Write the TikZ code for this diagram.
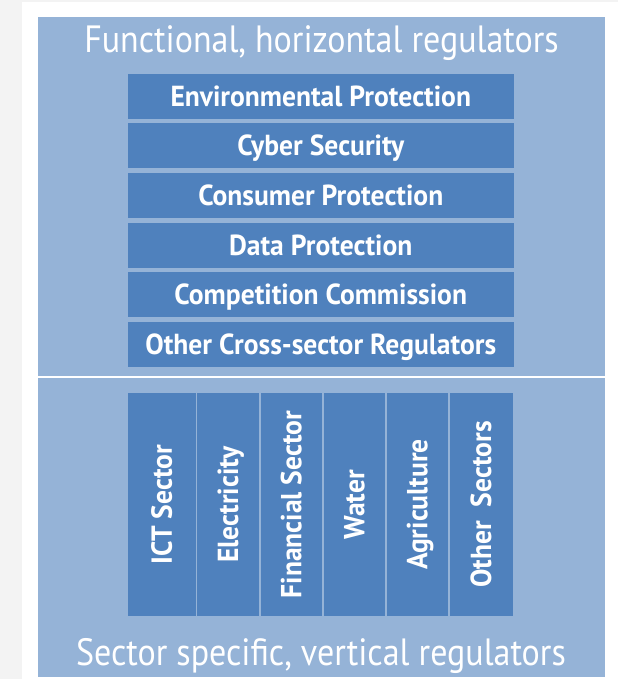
\documentclass[tikz,border=0pt]{standalone}
\usepackage{fontspec}
\setmainfont{PT Sans}
\newfontfamily\titlefont{PT Sans}[FakeStretch=0.895]
\newfontfamily\boxfont{PT Sans}[FakeStretch=0.95]
\definecolor{panelblue}{HTML}{95B3D7}
\definecolor{boxblue}{HTML}{4F81BD}
\definecolor{pagegray}{HTML}{F3F3F3}
\begin{document}
\begin{tikzpicture}[x=1pt,y=-1pt,
  hbox/.style={fill=boxblue,draw=none},
  boxtext/.style={text=white,font=\boxfont\bfseries\fontsize{29}{30}\selectfont,inner sep=0pt,text height=20pt,text depth=0pt},
  vtext/.style={boxtext,rotate=90},
  titletext/.style={text=white,font=\titlefont\fontsize{38}{39}\selectfont,inner sep=0pt,anchor=base}
]
\useasboundingbox (0,0) rectangle (618,679);
\fill[pagegray] (0,0) rectangle (618,679);
\fill[white] (22,2) rectangle (618,679);
% panel
\fill[panelblue] (38,17) rectangle (605,677);
\draw[white,line width=2pt] (38,376.5) -- (605,376.5);
% titles
\node[titletext] (ttop) at (321.5,53) {Functional, horizontal regulators};
\node[titletext] (tbot) at (321,665) {Sector specific, vertical regulators};
% horizontal boxes
\foreach \i/\t in {0/Environmental Protection,1/Cyber Security,2/Consumer Protection,3/Data Protection,4/Competition Commission,5/Other Cross-sector Regulators}{
  \pgfmathsetmacro\ya{74+49.5*\i}
  \pgfmathsetmacro\yb{\ya+45}
  \fill[hbox] (128,\ya) rectangle (513.5,\yb);
  \node[boxtext] (h\i) at (320.75,{(\ya+\yb)/2}) {\t};
}
% vertical boxes
\foreach \i/\xa/\xb/\t in {0/128/195.5/ICT Sector,1/197/259/Electricity,2/260.5/322/Financial Sector,3/323.5/385/Water,4/386.5/448/Agriculture,5/449.5/512.5/Other\ \ Sectors}{
  \fill[hbox] (\xa,393) rectangle (\xb,616);
  \node[vtext] (v\i) at ({(\xa+\xb)/2},504.5) {\t};
}
\end{tikzpicture}
\end{document}
